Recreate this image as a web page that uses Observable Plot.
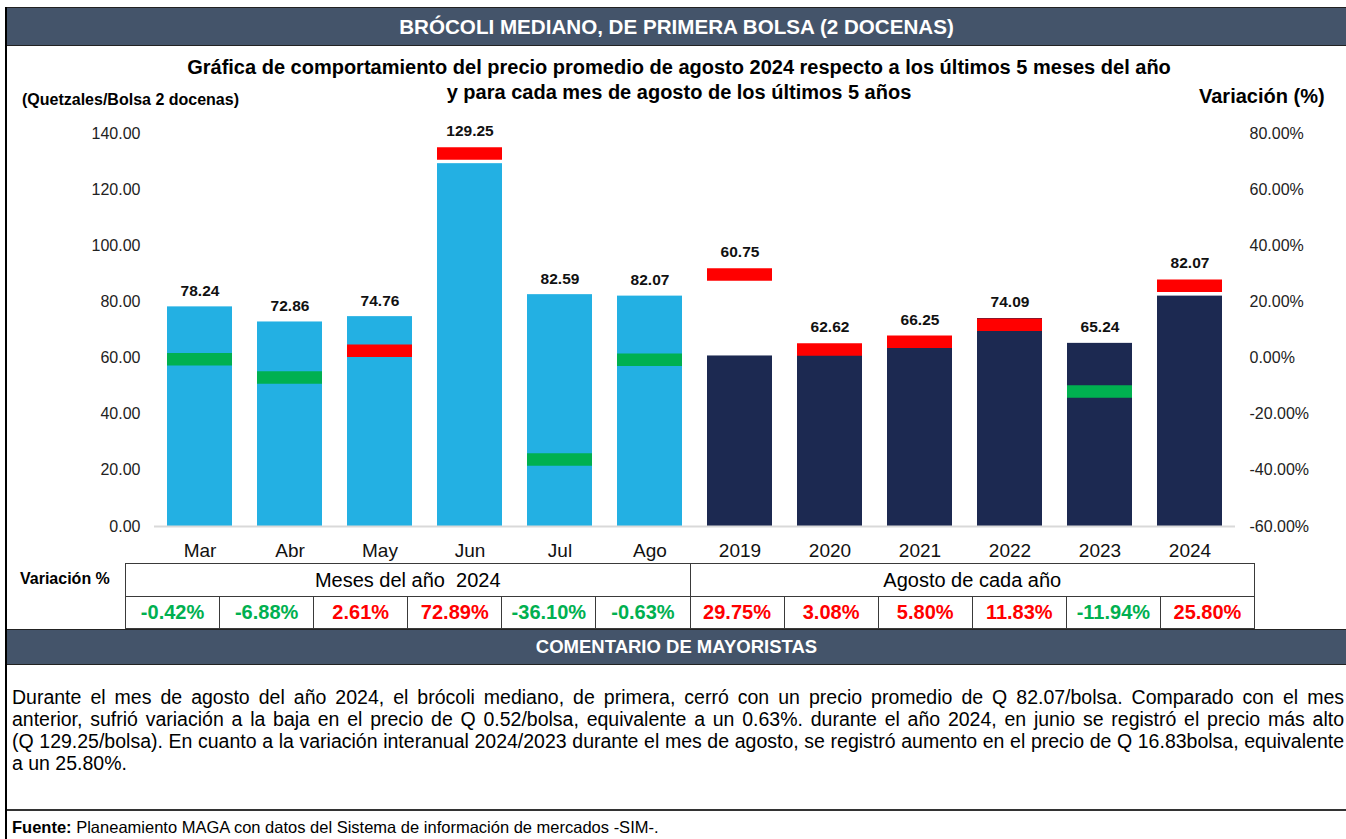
<!DOCTYPE html>
<html>
<head>
<meta charset="utf-8">
<script src="https://cdn.jsdelivr.net/npm/d3@7"></script>
<script src="https://cdn.jsdelivr.net/npm/@observablehq/plot@0.6"></script>
<style>
  html, body { margin: 0; padding: 0; background: #fff; }
  body { font-family: "Liberation Sans", Arial, sans-serif; color: #000; }
  #page { position: relative; width: 1346px; height: 839px; overflow: hidden; background: #fff; }
  .abs { position: absolute; }
  .bar { background: #44546A; color: #fff; font-weight: bold; text-align: center; border-top: 1px solid #222; border-bottom: 1px solid #222; box-sizing: border-box; }
  #tbl { border-collapse: collapse; table-layout: fixed; }
  #tbl td { border: 1px solid #3a3a3a; text-align: center; padding: 0; font-size: 20px; }
  #tbl tr.h td { height: 32px; white-space: pre; }
  #tbl tr.v td { height: 31px; font-weight: bold; }
  .cline { position: absolute; left: 12px; width: 1332px; font-size: 19.5px; line-height: 22px; height: 22px; text-align: justify; text-align-last: justify; }
  .cline.last { text-align-last: left; }
</style>
</head>
<body>
<div id="page">
  <div class="abs" style="left:5px;top:7px;width:2px;height:832px;background:#000;"></div>
  <div class="abs bar" style="left:7px;top:7px;width:1339px;height:39px;line-height:37px;font-size:20.6px;">BRÓCOLI MEDIANO, DE PRIMERA BOLSA (2 DOCENAS)</div>
  <div class="abs" style="left:7px;top:55px;width:1344px;text-align:center;font-weight:bold;font-size:20px;line-height:25px;">Gráfica de comportamiento del precio promedio de agosto 2024 respecto a los últimos 5 meses del año<br>y para cada mes de agosto de los últimos 5 años</div>
  <div class="abs" style="left:22px;top:89px;font-weight:bold;font-size:16px;line-height:22px;">(Quetzales/Bolsa 2 docenas)</div>
  <div class="abs" style="left:1199px;top:84px;font-weight:bold;font-size:20px;line-height:24px;">Variación (%)</div>
  <div id="chart" class="abs" style="left:0;top:110px;"></div>
  <div class="abs" style="left:20px;top:568px;font-weight:bold;font-size:16px;line-height:22px;">Variación %</div>
  <table id="tbl" class="abs" style="left:125px;top:563px;width:1129px;"></table>
  <div class="abs bar" style="left:7px;top:629px;width:1339px;height:36px;line-height:34px;font-size:18.5px;">COMENTARIO DE MAYORISTAS</div>
  <div id="comment"></div>
  <div class="abs" style="left:7px;top:809px;width:1339px;height:2px;background:#333;"></div>
  <div class="abs" style="left:12px;top:817px;font-size:16.5px;line-height:20px;"><b>Fuente:</b> Planeamiento MAGA con datos del Sistema de información de mercados -SIM-.</div>
</div>
<script>
// ---- data ----
const categories = ["Mar", "Abr", "May", "Jun", "Jul", "Ago", "2019", "2020", "2021", "2022", "2023", "2024"];
const prices = [78.24, 72.86, 74.76, 129.25, 82.59, 82.07, 60.75, 62.62, 66.25, 74.09, 65.24, 82.07];
const variations = [-0.42, -6.88, 2.61, 72.89, -36.10, -0.63, 29.75, 3.08, 5.80, 11.83, -11.94, 25.80];
const groups = ["mes", "mes", "mes", "mes", "mes", "mes", "ago", "ago", "ago", "ago", "ago", "ago"];
const groupLabels = ["Meses del año  2024", "Agosto de cada año"];
const yTicks = [0, 20, 40, 60, 80, 100, 120, 140];
const pctOffset = 60; // right axis: -60% at price 0, 80% at price 140

const LIGHT = "#23B0E3", DARK = "#1C2951", RED = "#FF0000", GREEN = "#00B050";

const data = categories.map((c, i) => ({cat: c, price: prices[i], pct: variations[i], group: groups[i]}));

const chart = Plot.plot({
  width: 1346,
  height: 460,
  marginLeft: 154,
  marginRight: 111,
  marginTop: 23,
  marginBottom: 44,
  x: {domain: categories, paddingInner: 0.28, paddingOuter: 0.145, label: null},
  y: {domain: [0, 140], label: null},
  color: {type: "identity"},
  style: {fontFamily: "'Liberation Sans', Arial, sans-serif", fontSize: "16px", color: "#000", background: "transparent", overflow: "visible"},
  marks: [
    Plot.barY(data, {x: "cat", y: "price", fill: d => d.group === "mes" ? LIGHT : DARK}),
    Plot.ruleY([0], {stroke: "#d9d9d9", strokeWidth: 2}),
    Plot.tickY(data, {x: "cat", y: d => d.pct + pctOffset, stroke: d => d.pct >= 0 ? RED : GREEN, strokeWidth: 12.5}),
    Plot.text(data, {x: "cat", y: d => Math.max(d.price, d.pct + pctOffset + 2.2), dy: -16, text: d => d.price.toFixed(2), fontWeight: "bold", fontSize: 15.5, fill: "#111"}),
    Plot.axisY({anchor: "left", ticks: yTicks, tickFormat: d => d.toFixed(2), tickSize: 0, tickPadding: 14, fontSize: 16, fill: "#222", label: null}),
    Plot.axisY({anchor: "right", ticks: yTicks, tickFormat: d => (d - pctOffset).toFixed(2) + "%", tickSize: 0, tickPadding: 14, fontSize: 16, fill: "#222", label: null}),
    Plot.axisX({tickSize: 0, tickPadding: 17, fontSize: 19, fill: "#111", label: null})
  ]
});
document.getElementById("chart").appendChild(chart);

// ---- table ----
const tbl = document.getElementById("tbl");
let colgroup = "<colgroup>" + categories.map(() => "<col style='width:94.08px'>").join("") + "</colgroup>";
let h = "<tr class='h'>" + groupLabels.map(g => `<td colspan="6">${g}</td>`).join("") + "</tr>";
let v = "<tr class='v'>" + variations.map(p => `<td style="color:${p >= 0 ? RED : GREEN}">${p.toFixed(2)}%</td>`).join("") + "</tr>";
tbl.innerHTML = colgroup + h + v;

// ---- comment ----
const commentLines = [
  "Durante el mes de agosto del año 2024, el  brócoli mediano, de primera, cerró con un precio promedio de Q 82.07/bolsa. Comparado con el mes",
  "anterior, sufrió variación a la baja   en el precio de Q 0.52/bolsa, equivalente a un 0.63%. durante el año 2024, en junio se registró el precio más alto",
  "(Q 129.25/bolsa). En cuanto a la variación interanual 2024/2023 durante el mes de agosto, se registró aumento en el precio de Q 16.83bolsa, equivalente",
  "a un 25.80%."
];
const cm = document.getElementById("comment");
commentLines.forEach((t, i) => {
  const d = document.createElement("div");
  d.className = "cline" + (i === commentLines.length - 1 ? " last" : "");
  d.style.top = (686 + i * 22) + "px";
  d.textContent = t;
  cm.appendChild(d);
});
</script>
</body>
</html>
